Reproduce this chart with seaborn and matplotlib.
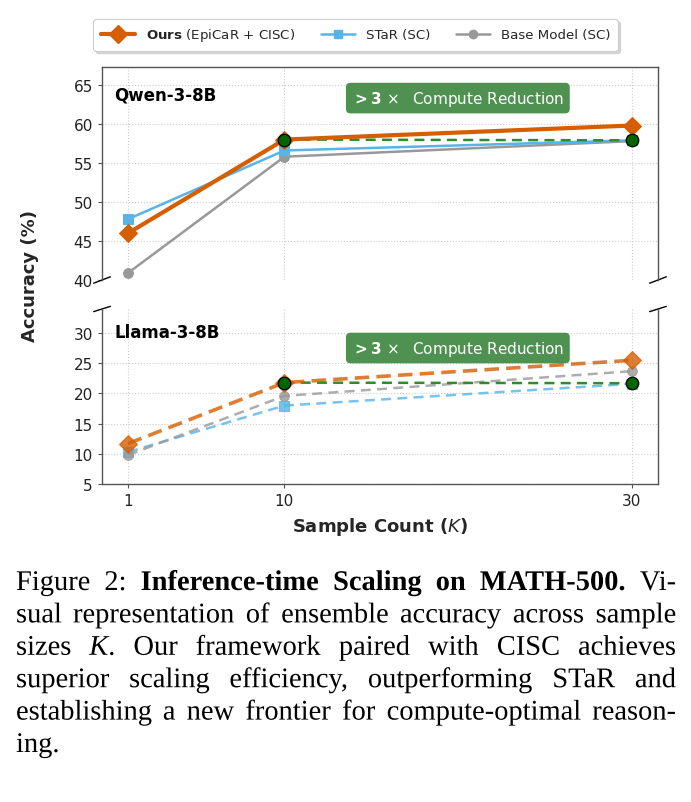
import matplotlib
matplotlib.use("Agg")
import matplotlib.pyplot as plt
import seaborn as sns
from matplotlib.lines import Line2D
from matplotlib.patheffects import AbstractPathEffect
from matplotlib.transforms import Affine2D

# ---------------- data ----------------
K = [1, 10, 30]
qwen_ours = [46.0, 58.0, 59.8]
qwen_star = [47.8, 56.6, 57.9]
qwen_base = [40.9, 55.8, 57.8]
qwen_match_k = [10, 30]
qwen_match = [58.0, 57.9]

llama_ours = [11.7, 21.8, 25.5]
llama_star = [10.3, 18.0, 21.6]
llama_base = [9.8, 19.6, 23.7]
llama_match_k = [10, 30]
llama_match = [21.8, 21.7]

series_labels = [r"$\mathbf{Ours}$ (EpiCaR + CISC)", "STaR (SC)", "Base Model (SC)"]
panel_names = ["Qwen-3-8B", "Llama-3-8B"]
x_ticks = [1, 10, 30]
qwen_yticks = [40, 45, 50, 55, 60, 65]
llama_yticks = [5, 10, 15, 20, 25, 30]
badge_text = r"$\mathbf{>3}\,\times$  Compute Reduction"

caption_lines = [
    [[("Figure", "normal", "normal")], [("2:", "normal", "normal")],
     [("Inference-time", "bold", "normal")], [("Scaling", "bold", "normal")],
     [("on", "bold", "normal")], [("MATH-500.", "bold", "normal")],
     [("Vi-", "normal", "normal")]],
    [[(w, "normal", "normal")] for w in "sual representation of ensemble accuracy across sample".split()],
    [[("sizes", "normal", "normal")], [("K", "normal", "italic"), (".", "normal", "normal")]]
    + [[(w, "normal", "normal")] for w in "Our framework paired with CISC achieves".split()],
    [[(w, "normal", "normal")] for w in "superior scaling efficiency, outperforming STaR and".split()],
    [[(w, "normal", "normal")] for w in "establishing a new frontier for compute-optimal reason-".split()],
    [[("ing.", "normal", "normal")]],
]

# ---------------- style ----------------
sns.set_theme(style="white")
plt.rcParams["font.family"] = ["DejaVu Sans"]

C_OURS = "#D55E00"
C_STAR = "#56B4E9"
C_BASE = "#999999"
C_GREEN = "#2E8B2E"
C_GDOT = "#006400"
C_BADGE = "#4E9150"
SPINE = "#555555"

W, H = 691, 803
fig = plt.figure(figsize=(W / 100, H / 100), dpi=100)

def fx(px):
    return px / W

def fy(py):
    return 1 - py / H

ax1 = fig.add_axes([fx(102), fy(281), fx(658) - fx(102), fy(68) - fy(281)])
ax2 = fig.add_axes([fx(102), fy(485), fx(658) - fx(102), fy(310) - fy(485)])

# top panel (solid)
sns.lineplot(x=K, y=qwen_base, ax=ax1, color=C_BASE, lw=1.8, marker="o", markersize=7,
             markeredgecolor=C_BASE, zorder=3)
sns.lineplot(x=K, y=qwen_star, ax=ax1, color=C_STAR, lw=1.8, marker="s", markersize=7,
             markeredgecolor=C_STAR, zorder=3)
sns.lineplot(x=qwen_match_k, y=qwen_match, ax=ax1, color=C_GREEN, lw=1.8,
             linestyle=(0, (4, 2.5)), zorder=4)
sns.lineplot(x=K, y=qwen_ours, ax=ax1, color=C_OURS, lw=3, marker="D", markersize=9,
             markeredgecolor=C_OURS, zorder=5)
ax1.plot(qwen_match_k, qwen_match, linestyle="none", marker="o", markersize=9,
         markerfacecolor=C_GDOT, markeredgecolor="black", markeredgewidth=0.9, zorder=6)

# bottom panel (dashed)
sns.lineplot(x=K, y=llama_star, ax=ax2, color=C_STAR, lw=1.8, marker="s", markersize=7,
             markeredgecolor=C_STAR, linestyle=(0, (4, 2.5)), alpha=0.8, zorder=3)
sns.lineplot(x=K, y=llama_base, ax=ax2, color=C_BASE, lw=1.8, marker="o", markersize=7,
             markeredgecolor=C_BASE, linestyle=(0, (4, 2.5)), alpha=0.8, zorder=3)
sns.lineplot(x=llama_match_k, y=llama_match, ax=ax2, color=C_GREEN, lw=1.8,
             linestyle=(0, (4, 2.5)), zorder=4)
sns.lineplot(x=K, y=llama_ours, ax=ax2, color=C_OURS, lw=2.6, marker="D", markersize=9,
             markeredgecolor=C_OURS, linestyle=(0, (4, 2)), alpha=0.8, zorder=5)
ax2.plot(llama_match_k, llama_match, linestyle="none", marker="o", markersize=9,
         markerfacecolor=C_GDOT, markeredgecolor="black", markeredgewidth=0.9, zorder=6)

for ax, yt, ylim, name, ny, by in [
    (ax1, qwen_yticks, (40, 67.3), panel_names[0], 0.873, 0.854),
    (ax2, llama_yticks, (5, 34), panel_names[1], 0.869, 0.777),
]:
    ax.set_xlim(-0.5, 31.5)
    ax.set_ylim(*ylim)
    ax.set_xticks(x_ticks)
    ax.set_yticks(yt)
    ax.grid(True, linestyle=":", color="#cccccc", lw=0.8)
    ax.set_axisbelow(True)
    for s in ax.spines.values():
        s.set_color(SPINE)
        s.set_linewidth(1.0)
    ax.tick_params(axis="both", labelsize=11, colors="#222222", length=3, width=0.8,
                   left=True, bottom=True, color=SPINE)
    ax.set_xlabel("")
    ax.set_ylabel("")
    ax.text(0.022, ny, name, transform=ax.transAxes, fontsize=12, fontweight="bold",
            ha="left", va="center", color="black")
    ax.text(0.64, by, badge_text, transform=ax.transAxes, fontsize=11, color="white",
            ha="center", va="center", zorder=10,
            bbox=dict(boxstyle="round,pad=0.38,rounding_size=0.3", fc=C_BADGE, ec="none"))

ax1.spines["bottom"].set_visible(False)
ax1.tick_params(axis="x", bottom=False, labelbottom=False)
ax2.spines["top"].set_visible(False)
ax2.set_xticklabels([str(k) for k in x_ticks])

# break marks
d = 0.015
kw = dict(color="black", lw=1.0, clip_on=False)
ax1.plot((-d, d), (-d, d), transform=ax1.transAxes, **kw)
ax1.plot((1 - d, 1 + d), (-d, d), transform=ax1.transAxes, **kw)
ax2.plot((-d, d), (1 - d, 1 + d), transform=ax2.transAxes, **kw)
ax2.plot((1 - d, 1 + d), (1 - d, 1 + d), transform=ax2.transAxes, **kw)

# labels
fig.text(fx(30), fy(276), "Accuracy (%)", rotation=90, fontsize=13, fontweight="bold",
         ha="center", va="center")
fig.text(fx(380), fy(527), r"Sample Count ($K$)", fontsize=13, fontweight="bold",
         ha="center", va="center")

# legend
handles = [
    Line2D([], [], color=C_OURS, lw=3, marker="D", markersize=9, markeredgecolor=C_OURS),
    Line2D([], [], color=C_STAR, lw=1.8, marker="s", markersize=6, markeredgecolor=C_STAR),
    Line2D([], [], color=C_BASE, lw=1.8, marker="o", markersize=6, markeredgecolor=C_BASE),
]
leg = fig.legend(handles, series_labels, loc="center", bbox_to_anchor=(fx(355.5), fy(36)),
                 ncol=3, fontsize=9.6, frameon=True, fancybox=True,
                 shadow={"color": "0.75", "alpha": 0.6}, edgecolor="#cccccc",
                 handlelength=2.6, columnspacing=1.9, borderpad=0.55)
leg.get_frame().set_linewidth(0.8)

# ---------------- caption (justified, slightly condensed serif) ----------------
class XScale(AbstractPathEffect):
    """Draw text glyphs horizontally scaled about a fixed pixel x."""
    def __init__(self, sx, x0):
        super().__init__()
        self.sx = sx
        self.x0 = x0

    def draw_path(self, renderer, gc, tpath, affine, rgbFace=None):
        aff = affine + Affine2D().translate(-self.x0, 0).scale(self.sx, 1).translate(self.x0, 0)
        renderer.draw_path(gc, tpath, aff, rgbFace)

renderer = fig.canvas.get_renderer()
CAP_FAMILY = ["Liberation Serif", "DejaVu Serif"]
LEFT, RIGHT = 16, 676
SIZE = 20.5

def seg_width(s, weight, style, size):
    t = fig.text(0, 0, s, fontsize=size, fontweight=weight, fontstyle=style,
                 family=CAP_FAMILY)
    w = t.get_window_extent(renderer).width
    t.remove()
    return w

def word_width(word, size):
    return sum(seg_width(s, wt, st, size) for s, wt, st in word)

em = SIZE * 100 / 72
space_min = 0.2 * em
widest = 0
for line in caption_lines[:-1]:
    tot = sum(word_width(w, SIZE) for w in line)
    widest = max(widest, (RIGHT - LEFT - space_min * (len(line) - 1)) and tot / (RIGHT - LEFT - space_min * (len(line) - 1)))
sx = min(1.0, 1.0 / widest)

baselines = [591, 623.4, 655.8, 688.2, 720.6, 753]
normal_space = 0.25 * em
for i, line in enumerate(caption_lines):
    widths = [word_width(w, SIZE) * sx for w in line]
    if i < len(caption_lines) - 1 and len(line) > 1:
        gap = (RIGHT - LEFT - sum(widths)) / (len(line) - 1)
    else:
        gap = normal_space
    x = LEFT
    for word, ww in zip(line, widths):
        xs = x
        for s, wt, st in word:
            fig.text(fx(xs), fy(baselines[i]), s, fontsize=SIZE, fontweight=wt, fontstyle=st,
                     family=CAP_FAMILY, ha="left", va="baseline", color="black",
                     path_effects=[XScale(sx, xs)])
            xs += seg_width(s, wt, st, SIZE) * sx
        x += ww + gap

fig.savefig("out.png", dpi=100)
